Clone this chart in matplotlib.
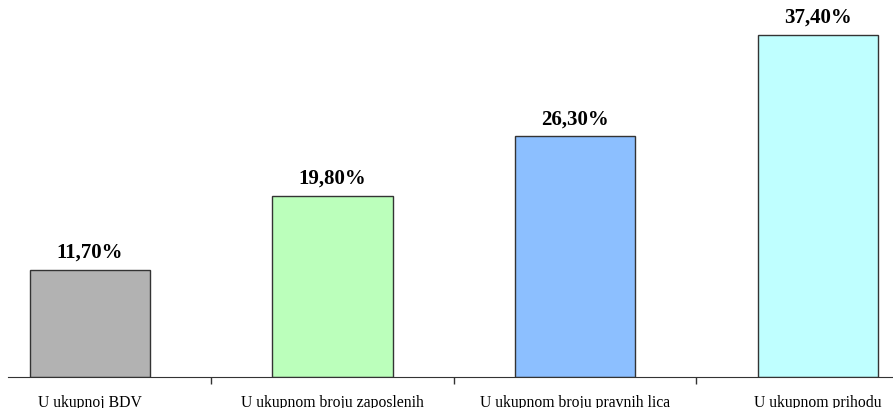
import matplotlib.pyplot as plt
import numpy as np

# data
categories = ["U ukupnoj BDV", "U ukupnom broju zaposlenih", "U ukupnom broju pravnih lica", "U ukupnom prihodu"]
values = [11.70, 19.80, 26.30, 37.40]
value_labels = ["11,70%", "19,80%", "26,30%", "37,40%"]
colors = ["#b2b2b2", "#bbffbb", "#8cbfff", "#bfffff"]

plt.rcParams['font.family'] = ['Liberation Serif', 'DejaVu Serif']

fig = plt.figure(figsize=(8.93, 4.08), dpi=100)
ax = fig.add_axes([8/893, 31/408, 885/893, 377/408])

x = np.arange(len(categories))
ax.bar(x, values, width=0.495, color=colors, edgecolor="#333333", linewidth=1)

for xi, v, lab in zip(x, values, value_labels):
    ax.annotate(lab, (xi, v), xytext=(0, 5), textcoords="offset points",
                ha="center", va="bottom", fontsize=15, fontweight="bold")

ax.set_xlim(-0.338, 3.311)
ax.set_ylim(0, 41.2)
ax.set_xticks(x)
ax.set_xticklabels(categories, fontsize=11.3)
ax.tick_params(axis="x", which="major", length=0, pad=13)
ax.set_xticks(x[:-1] + 0.5, minor=True)
ax.tick_params(axis="x", which="minor", length=5, width=1, color="#333333")
ax.set_yticks([])
for s in ["top", "right", "left"]:
    ax.spines[s].set_visible(False)
ax.spines["bottom"].set_color("#333333")

fig.savefig("out.png", dpi=100)
